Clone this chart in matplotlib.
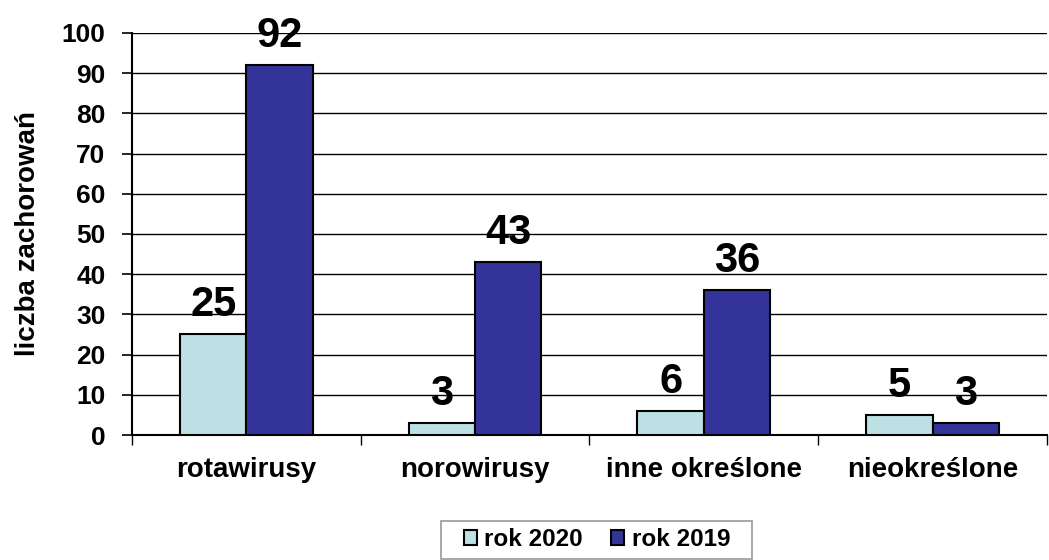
import matplotlib
matplotlib.use("Agg")
import matplotlib.pyplot as plt
from matplotlib.path import Path
import numpy as np

categories = ["rotawirusy", "norowirusy", "inne określone", "nieokreślone"]
series_names = ["rok 2020", "rok 2019"]
values_2020 = [25, 3, 6, 5]
values_2019 = [92, 43, 36, 3]
colors = ["#BCE0E3", "#333399"]

plt.rcParams['font.family'] = ['Liberation Sans', 'DejaVu Sans']
plt.rcParams['font.weight'] = 'bold'

fig = plt.figure(figsize=(10.49, 5.6), dpi=100)
ax = fig.add_axes([0.1258, 0.2232, 0.8722, 0.718])

x = np.arange(len(categories))
w = 0.29
b1 = ax.bar(x - w/2, values_2020, w, color=colors[0], edgecolor='black', linewidth=1.5, label=series_names[0], zorder=3)
b2 = ax.bar(x + w/2, values_2019, w, color=colors[1], edgecolor='black', linewidth=1.5, label=series_names[1], zorder=3)

for bars, vals in ((b1, values_2020), (b2, values_2019)):
    for r, v in zip(bars, vals):
        ax.annotate(str(v), (r.get_x() + r.get_width()/2, v), xytext=(0, 13),
                    textcoords='offset points', ha='center', va='baseline',
                    fontsize=30, fontweight='bold', zorder=5)

ax.set_xlim(-0.5, len(categories) - 0.5)
ax.set_ylim(0, 100)
ax.set_yticks(np.arange(0, 101, 10))
ax.yaxis.grid(True, color='black', linewidth=1.0, zorder=0)
ax.set_axisbelow(True)
ax.tick_params(axis='y', labelsize=19, length=7, width=1.2, direction='out', pad=12)
for lbl in ax.get_yticklabels():
    lbl.set_fontweight('bold')

ax.set_xticks(x)
ax.set_xticklabels(categories, fontsize=20, fontweight='bold')
ax.tick_params(axis='x', length=0, pad=16)
ax.set_xticks(np.arange(-0.5, len(categories), 1), minor=True)
ax.tick_params(axis='x', which='minor', length=7, width=1.0, direction='out')

ax.set_ylabel("liczba zachorowań", fontsize=20, fontweight='bold', labelpad=15)

for s in ['top', 'right']:
    ax.spines[s].set_visible(False)
ax.spines['left'].set_linewidth(1.5)
ax.spines['bottom'].set_linewidth(1.5)

leg = fig.legend(loc='center', bbox_to_anchor=(0.569, 0.036), ncol=2, fontsize=17.5,
                 frameon=True, fancybox=False, edgecolor='#808080', handlelength=0.55,
                 handleheight=0.55, handletextpad=0.3, columnspacing=1.15, borderpad=0.3,
                 borderaxespad=0)
leg.get_frame().set_linewidth(1.2)


def wide_box(x0, y0, width, height, mutation_size):
    padx = 0.62 * mutation_size
    x1 = x0 + width + padx
    xa = x0 - padx
    y1 = y0 + height
    return Path([(xa, y0), (x1, y0), (x1, y1), (xa, y1), (xa, y0)],
                [Path.MOVETO, Path.LINETO, Path.LINETO, Path.LINETO, Path.CLOSEPOLY])


try:
    leg.get_frame().set_boxstyle(wide_box)
except Exception:
    pass
for t in leg.get_texts():
    t.set_fontweight('bold')

fig.savefig("out.png", dpi=100)
